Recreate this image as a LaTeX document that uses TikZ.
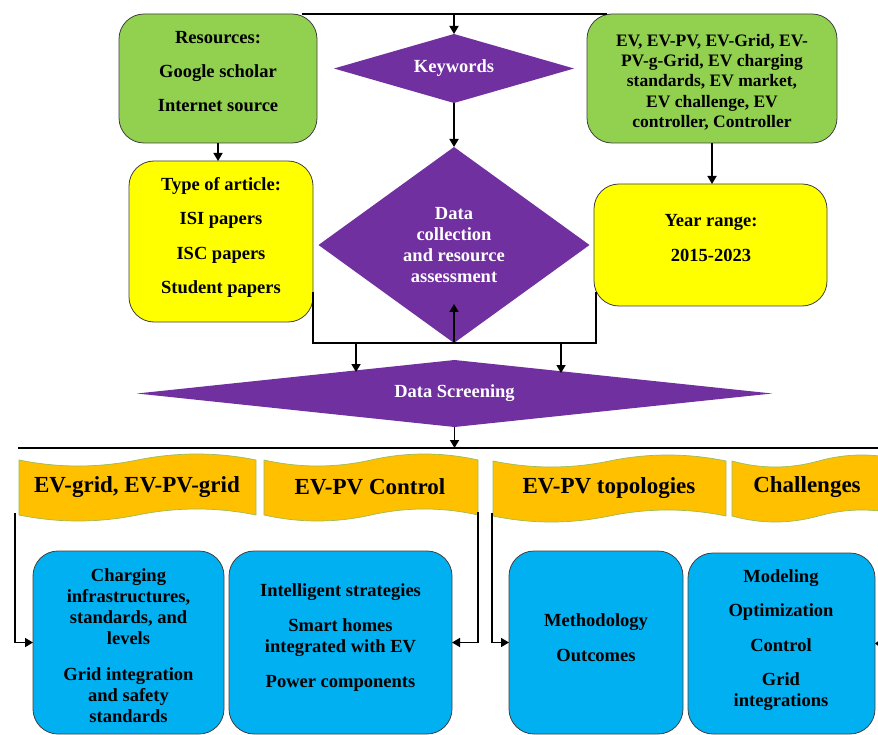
\documentclass[tikz,border=0pt]{standalone}
\usepackage{fontspec}
\setmainfont{Liberation Serif}
\usetikzlibrary{arrows.meta,shapes.geometric,calc}
\definecolor{cgreen}{HTML}{92D050}
\definecolor{cyellow}{HTML}{FFFF00}
\definecolor{cpurple}{HTML}{7030A0}
\definecolor{cgold}{HTML}{FFC000}
\definecolor{cblue}{HTML}{00B0F0}
\definecolor{cedge}{HTML}{404040}
\definecolor{cband}{HTML}{9BBB59}
\newcommand{\wavebox}[4]{%
 \path[banner] (#1,#3) .. controls ({#1+(#2-#1)/6},#3+8) and ({#1+(#2-#1)/3},#3+8) .. ({(#1+#2)/2},#3)
   .. controls ({#1+2*(#2-#1)/3},#3-8) and ({#1+5*(#2-#1)/6},#3-8) .. (#2,#3)
   -- (#2,#4) .. controls ({#1+5*(#2-#1)/6},#4-8) and ({#1+2*(#2-#1)/3},#4-8) .. ({(#1+#2)/2},#4)
   .. controls ({#1+(#2-#1)/3},#4+8) and ({#1+(#2-#1)/6},#4+8) .. (#1,#4) -- cycle;}
\begin{document}
\begin{tikzpicture}[x=1pt,y=-1pt,
  box/.style={draw=cedge, line width=0.8pt, rounded corners=25pt, inner sep=0pt, outer sep=0pt},
  txt/.style={font=\bfseries\fontsize{18.5}{21}\selectfont, align=center, inner sep=0pt},
  btxt/.style={font=\bfseries\fontsize{23}{26}\selectfont, align=center, inner sep=0pt},
  dia/.style={diamond, fill=cpurple, inner sep=0pt, outer sep=0pt, text=white,
    font=\bfseries\fontsize{18.5}{21}\selectfont, align=center},
  banner/.style={fill=cgold, draw=cband, line width=0.7pt},
  line/.style={line width=1.7pt, draw=black},
  arr/.style={line width=1.7pt, draw=black, -{Triangle[length=8pt,width=9pt]}}]
\useasboundingbox (0,0) rectangle (878,735);
\clip (0,0) rectangle (878,735);
\fill[white] (0,0) rectangle (878,735);

% top boxes
\node[box, fill=cgreen, minimum width=198pt, minimum height=129pt] (res) at (218,78.5) {};
\node[txt] (res-t) at (218,72) {Resources:\\[13pt]Google scholar\\[13pt]Internet source};
\node[box, fill=cgreen, minimum width=250pt, minimum height=129pt] (kv) at (712,78.5) {};
\node[txt, font=\bfseries\fontsize{17.5}{20.3}\selectfont] (kv-t) at (712,82)
  {EV, EV-PV, EV-Grid, EV-\\PV-g-Grid, EV charging\\standards, EV market,\\EV challenge, EV\\controller, Controller};
\node[box, fill=cyellow, minimum width=184pt, minimum height=161pt] (type) at (221,241.5) {};
\node[txt] (type-t) at (221,237.5) {Type of article:\\[13pt]ISI papers\\[14pt]ISC papers\\[13pt]Student papers};
\node[box, fill=cyellow, minimum width=233pt, minimum height=122pt] (yr) at (710.5,245) {};
\node[txt] (yr-t) at (711,238.5) {Year range:\\[14pt]2015-2023};

% diamonds
\node[dia, aspect=3.48, minimum width=240pt, minimum height=69pt] (kwd) at (454,68.5) {Keywords};
\node[dia, aspect=1.38, minimum width=271pt, minimum height=196pt] (dc) at (454,245) {Data\\collection\\and resource\\assessment};
\node[dia, aspect=9.48, minimum width=635pt, minimum height=67pt] (ds) at (454.5,393.5) {Data Screening};

% top connectors
\draw[line] ([xshift=-15pt]res.north east) -- ([xshift=20pt]kv.north west);
\draw[arr] (kwd.north |- res.north) -- (kwd.north);
\draw[arr] (kwd.south) -- (kwd.south |- dc.north);
\draw[arr] (res.south) -- (res.south |- type.north);
\draw[arr] (kv.south) -- (kv.south |- yr.north);

\coordinate (ja) at (313,292);
\coordinate (jl) at (313,343);
\coordinate (jr) at (596,343);
\coordinate (jb) at (596,292);
\draw[line] (ja) -- (jl) -- (jr) -- (jb);
\coordinate (dcin) at (454,304);
\draw[arr] (dc.south) -- (dcin);
\coordinate (d1) at (356,343);
\coordinate (d1e) at (356,372);
\coordinate (d2) at (561,343);
\coordinate (d2e) at (561,373);
\draw[arr] (d1) -- (d1e);
\draw[arr] (d2) -- (d2e);

\coordinate (h1) at (18,448);
\coordinate (h2) at (878,448);
\draw[line] (h1) -- (h2);
\draw[arr] (ds.south) -- (ds.south |- h1);

% banners
\wavebox{19}{256}{460}{515}
\wavebox{264}{478}{460}{515}
\wavebox{493}{726}{461}{516}
\wavebox{732}{905}{461}{516}
\node[btxt] (t1) at (137,487) {EV-grid, EV-PV-grid};
\node[btxt] (t2) at (370,487) {EV-PV Control};
\node[btxt] (t3) at (609,488) {EV-PV topologies};
\node[btxt] (t4) at (807,487) {Challenges};

% bottom boxes
\node[box, fill=cblue, minimum width=191pt, minimum height=183pt] (b1) at (128.5,642.5) {};
\node[txt] (b1-t) at (128.5,645.5) {Charging\\infrastructures,\\standards, and\\levels\\[15pt]Grid integration\\and safety\\standards};
\node[box, fill=cblue, minimum width=223pt, minimum height=183pt] (b2) at (340.5,642.5) {};
\node[txt] (b2-t) at (340.5,637.5) {Intelligent strategies\\[14pt]Smart homes\\integrated with EV\\[14pt]Power components};
\node[box, fill=cblue, minimum width=174pt, minimum height=183pt] (b3) at (596,642.5) {};
\node[txt] (b3-t) at (596,637.5) {Methodology\\[14pt]Outcomes};
\node[box, fill=cblue, minimum width=187pt, minimum height=181pt] (b4) at (781.5,643.5) {};
\node[txt] (b4-t) at (781,640) {Modeling\\[13pt]Optimization\\[14pt]Control\\[13pt]Grid\\integrations};

% bottom connectors
\coordinate (l1) at (15,513);
\draw[arr] (l1) |- (b1.west);
\coordinate (m1) at (478,512);
\draw[arr] (m1) |- (b2.east);
\coordinate (m2) at (492,513);
\draw[arr] (m2) |- (b3.west);
\coordinate (r1) at (884,643.5);
\draw[line width=1.7pt, -{Triangle[length=5pt,width=7pt]}] (r1) -- (b4.east);
\end{tikzpicture}
\end{document}
